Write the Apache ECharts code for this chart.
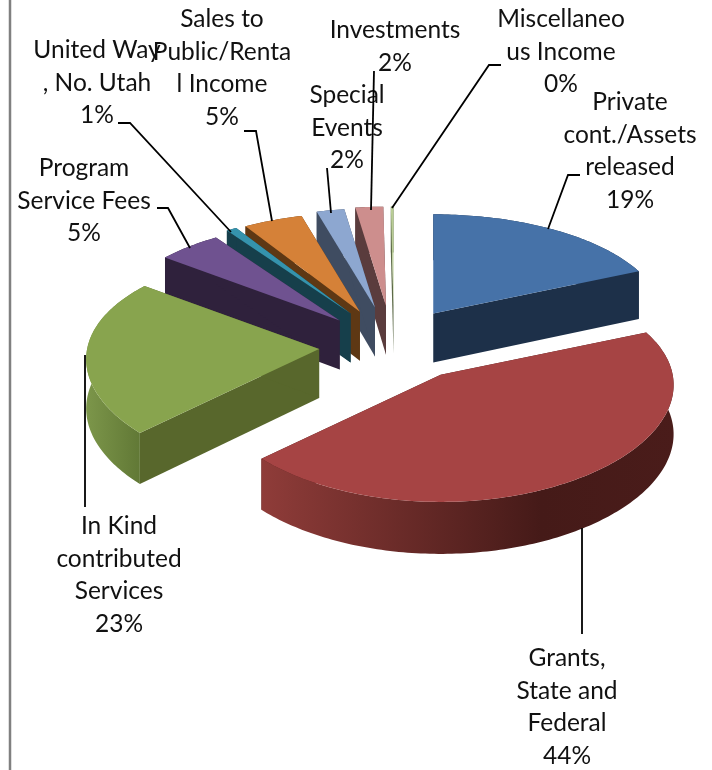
<!DOCTYPE html>
<html><head><meta charset="utf-8">
<style>html,body{margin:0;padding:0;background:#fff}#c{width:712px;height:770px}</style>
<script src="https://cdn.jsdelivr.net/npm/echarts@6/dist/echarts.min.js"></script>
</head><body><div id="c"></div>
<script>
var categories = ['Private cont./Assets released','Grants, State and Federal','In Kind contributed Services','Program Service Fees','United Way, No. Utah','Sales to Public/Rental Income','Special Events','Investments','Miscellaneous Income'];
var shares = [18.5,44.4,22.5,4.9,0.8,4.5,2.1,2.1,0.2];
var percentLabels = ['19%','44%','23%','5%','1%','5%','2%','2%','0%'];
var labelLines = [
  ['Private','cont./Assets','released'],
  ['Grants,','State and','Federal'],
  ['In Kind','contributed','Services'],
  ['Program','Service Fees'],
  ['United Way',', No. Utah'],
  ['Sales to','Public/Renta','l Income'],
  ['Special','Events'],
  ['Investments'],
  ['Miscellaneo','us Income']
];
var topColors = ['#4672A8','#A64444','#88A44E','#6F5290','#3593AD','#D58138','#8DA7D0','#CD8E8D','#B9CD96'];
var sideColors = ['#1D3049','#4A1C1A','#58672C','#2F213C','#163F4B','#5E3814','#3F4C61','#5A3C3D','#5D6A48'];
var wallStops = [
  [['0','#1D3049'],['1','#1D3049']],
  [['0','#8F3C39'],['0.68','#451A18'],['1','#4A1C1A']],
  [['0','#7C964A'],['1','#5F7634']],
  [['0','#2F213C'],['1','#2F213C']],
  [['0','#163F4B'],['1','#163F4B']],
  [['0','#5E3814'],['1','#5E3814']],
  [['0','#3F4C61'],['1','#3F4C61']],
  [['0','#5A3C3D'],['1','#5A3C3D']],
  [['0','#5D6A48'],['1','#5D6A48']]
];
var drawOrder = [8,7,6,5,4,3,0,2,1];
// layout of labels: centre x, first line centre y
var labelAnchors = [[630,102],[567,658],[119,526],[84,168],[97,50],[222,19],[347,95],[395,30],[561,19]];
var leaders = [
  [[580,175],[568,175],[548,229]],
  [[582,528],[582,634]],
  [[85,355],[85,507]],
  [[157,208],[168,208],[190,248]],
  [[118,123],[130,123],[231,232]],
  [[244,131],[256,131],[272,221]],
  [[327,168],[331,213]],
  [[374,71],[371,210]],
  [[501,65],[489,65],[392,208]]
];
var sliceNudge = [[1,2],[6,0],[8,5],[3,5],[3,2],[1,3],[1,1],[2,0],[4,0]];
var CX=390, CY=342, RX=232, RY=235, TILT=0.474, PERSP=0.124, PERSPX=0.09, EXPLODE=0.34, DEPTH=49;

var total = shares.reduce(function(a,b){return a+b;},0);
var angles = [], acc = 0;
shares.forEach(function(v){ var s=acc; acc+=v; angles.push([s/total*2*Math.PI, acc/total*2*Math.PI]); });

function proj(X,Y){ return [X*RX/(1+PERSPX*Y), -Y*RY*TILT/(1+PERSP*Y)]; }
function unit(a){ return [Math.sin(a),Math.cos(a)]; }
function rim(i,a){
  var mid=(angles[i][0]+angles[i][1])/2, m=unit(mid), o=proj(m[0]*EXPLODE,m[1]*EXPLODE);
  var ax=CX+o[0]+sliceNudge[i][0], ay=CY+o[1]+sliceNudge[i][1];
  if(a===null) return [ax,ay];
  var u=unit(a), p=proj(u[0],u[1]);
  return [ax+p[0], ay+p[1], u[1]];
}
function drop(p,y){ return [p[0],p[1]+DEPTH-3*(y||0)]; }

function renderSlice(params, api){
  var i = api.value(0), a0=angles[i][0], a1=angles[i][1];
  var apex = rim(i,null), arc=[], n=Math.max(2,Math.ceil((a1-a0)/(Math.PI/180)));
  for(var k=0;k<=n;k++) arc.push(rim(i,a0+(a1-a0)*k/n));
  var apexB=drop(apex,0), first=arc[0], last=arc[n];
  var arcPts=arc.map(function(p){return [p[0],p[1]];});
  var arcB=arc.map(function(p){return drop(p,p[2]);});
  var xs=arc.map(function(p){return p[0];});
  var minX=Math.min.apply(null,xs), maxX=Math.max.apply(null,xs);
  var wall=new echarts.graphic.LinearGradient(minX,0,maxX,0,wallStops[i].map(function(s){return {offset:+s[0],color:s[1]};}),true);
  return {type:'group',children:[
    {type:'polygon',shape:{points:[apex,[first[0],first[1]],drop(first,first[2]),apexB]},style:{fill:sideColors[i]}},
    {type:'polygon',shape:{points:[apex,[last[0],last[1]],drop(last,last[2]),apexB]},style:{fill:sideColors[i]}},
    {type:'polygon',shape:{points:arcPts.concat(arcB.slice().reverse())},style:{fill:wall}},
    {type:'polygon',shape:{points:[apex].concat(arcPts)},style:{fill:topColors[i]}}
  ]};
}
function renderLabel(params, api){
  var i=api.value(0), a=labelAnchors[i], lines=labelLines[i].concat([percentLabels[i]]);
  var kids=lines.map(function(t,j){
    return {type:'text',style:{text:t,x:a[0],y:a[1]+j*32.6,align:'center',verticalAlign:'middle',fill:'#111',font:'24.5px Lato'}};
  });
  kids.push({type:'polyline',shape:{points:leaders[i]},style:{fill:null,stroke:'#000',lineWidth:1.8}});
  return {type:'group',children:kids};
}
var chart = echarts.init(document.getElementById('c'),null,{renderer:'canvas'});
chart.setOption({
  animation:false,
  backgroundColor:'#fff',
  graphic:[{type:'line',shape:{x1:10,y1:0,x2:10,y2:770},style:{stroke:'#808080',lineWidth:2.5},silent:true}],
  series:[
    {type:'custom',coordinateSystem:'none',silent:true,z:2,clip:false,renderItem:renderSlice,data:drawOrder.map(function(i){return [i,shares[i],categories[i]];})},
    {type:'custom',coordinateSystem:'none',silent:true,z:3,clip:false,renderItem:renderLabel,data:shares.map(function(v,i){return [i,v,categories[i]];})}
  ]
});
</script></body></html>
